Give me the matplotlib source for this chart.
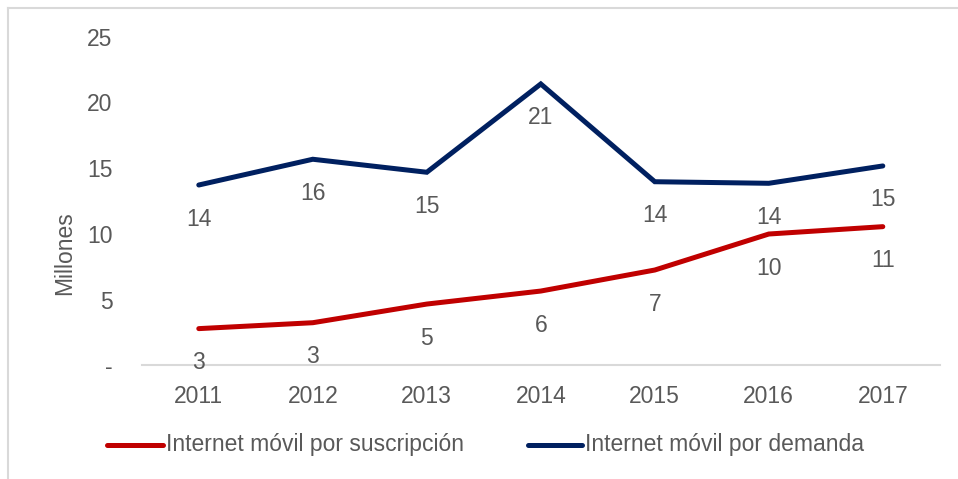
import matplotlib.pyplot as plt
from matplotlib.lines import Line2D
import numpy as np

plt.rcParams['font.family'] = ['Liberation Sans', 'DejaVu Sans']

years = ['2011', '2012', '2013', '2014', '2015', '2016', '2017']
suscripcion = [2.79, 3.24, 4.66, 5.65, 7.25, 9.99, 10.55]
demanda = [13.72, 15.68, 14.69, 21.41, 13.97, 13.85, 15.17]
yticks = [0, 5, 10, 15, 20, 25]
ytick_labels = ['-', '5', '10', '15', '20', '25']
series_names = ['Internet móvil por suscripción', 'Internet móvil por demanda']

red = '#C00000'
navy = '#002060'
txt = '#595959'
fs = 16.5
W, H = 958, 479

fig = plt.figure(figsize=(9.58, 4.79), dpi=100)
ax = fig.add_axes([0.148, 0.2374, 0.833, 0.6858])

x = np.arange(len(years))
ax.plot(x, suscripcion, color=red, lw=3.6, solid_capstyle='round', solid_joinstyle='miter')
ax.plot(x, demanda, color=navy, lw=3.6, solid_capstyle='round', solid_joinstyle='miter')

# data labels under each point
for vals in (suscripcion, demanda):
    for xi, v in zip(x, vals):
        ax.annotate(f'{v:.0f}', (xi, v), xytext=(0, -34), textcoords='offset pixels',
                    ha='center', va='center', fontsize=fs, color=txt)

ax.set_xlim(-0.5, 6.5)
ax.set_ylim(0, 25)
ax.set_xticks(x)
ax.set_xticklabels(years)
ax.set_yticks(yticks)
ax.set_yticklabels(ytick_labels)
ax.tick_params(axis='both', length=0, labelsize=fs, colors=txt)
ax.tick_params(axis='x', pad=14)
ax.tick_params(axis='y', pad=21)
for s in ['top', 'right', 'left']:
    ax.spines[s].set_visible(False)
ax.spines['bottom'].set_color('#d9d9d9')
ax.spines['bottom'].set_linewidth(1.5)
fig.text(65 / W, 1 - 253 / H, 'Millones', rotation=90, ha='center', va='center',
         fontsize=fs, color=txt)

# legend, drawn by hand to match the spacing
ly = 1 - 445 / H
for (x0, x1, tx), c, name in zip([(107, 163, 166), (528, 582, 585)], [red, navy], series_names):
    fig.add_artist(Line2D([x0 / W, x1 / W], [ly, ly], color=c, lw=3.6, solid_capstyle='round'))
    fig.text(tx / W, ly, name, ha='left', va='center', fontsize=fs, color=txt)

# outer chart border
fig.add_artist(Line2D([8 / W, 8 / W], [0, 1 - 8 / H], color='#d9d9d9', lw=1.5))
fig.add_artist(Line2D([8 / W, 1], [1 - 8 / H, 1 - 8 / H], color='#d9d9d9', lw=1.5))

fig.savefig('out.png', dpi=100)
